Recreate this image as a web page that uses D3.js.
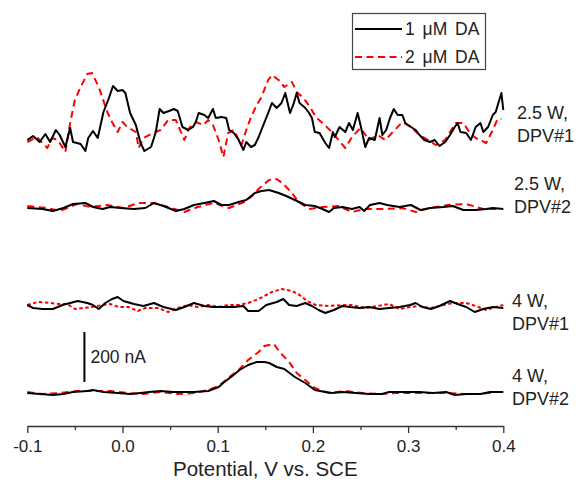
<!DOCTYPE html>
<html>
<head>
<meta charset="utf-8">
<script src="https://cdn.jsdelivr.net/npm/d3@7"></script>
<style>
  html, body { margin: 0; padding: 0; background: #fff; }
  svg text { font-family: "Liberation Sans", Arial, sans-serif; fill: #222; }
</style>
</head>
<body>
<svg id="chart" width="577" height="481"></svg>
<script>
// DPV traces, [potential (V vs. SCE), current (nA) relative to each trace's own baseline]
const w25dpv1_1uM = [[-0.100,-20],[-0.094,-4],[-0.087,-28],[-0.081,4],[-0.076,-28],[-0.070,20],[-0.066,0],[-0.060,-48],[-0.055,28],[-0.052,-28],[-0.044,-36],[-0.039,-64],[-0.036,-12],[-0.031,16],[-0.026,-12],[-0.020,92],[-0.015,140],[-0.010,196],[-0.005,176],[0.000,180],[0.003,168],[0.008,88],[0.014,40],[0.019,-32],[0.023,-64],[0.030,-48],[0.035,12],[0.039,104],[0.043,88],[0.049,96],[0.054,104],[0.058,96],[0.063,32],[0.069,20],[0.074,32],[0.077,52],[0.080,88],[0.086,80],[0.090,68],[0.095,104],[0.098,68],[0.104,72],[0.109,68],[0.112,20],[0.117,8],[0.122,-20],[0.127,-60],[0.130,-28],[0.135,-48],[0.139,-40],[0.143,-8],[0.148,40],[0.153,88],[0.157,128],[0.162,108],[0.167,128],[0.171,168],[0.176,88],[0.180,128],[0.183,168],[0.186,128],[0.192,108],[0.196,88],[0.199,68],[0.202,12],[0.207,8],[0.213,-32],[0.217,-52],[0.221,12],[0.223,-8],[0.228,32],[0.234,12],[0.238,48],[0.242,20],[0.247,88],[0.250,40],[0.255,-48],[0.259,-12],[0.265,-20],[0.270,68],[0.273,0],[0.277,20],[0.281,68],[0.285,104],[0.289,80],[0.294,80],[0.297,48],[0.303,32],[0.308,20],[0.312,0],[0.317,-20],[0.323,-28],[0.328,-20],[0.333,-44],[0.339,-28],[0.344,0],[0.349,32],[0.352,48],[0.355,12],[0.361,8],[0.366,-20],[0.371,32],[0.376,48],[0.379,12],[0.384,32],[0.389,80],[0.392,92],[0.398,168],[0.400,100]];
const w25dpv1_2uM = [[-0.100,-28],[-0.090,-8],[-0.079,-52],[-0.074,-12],[-0.068,-20],[-0.060,-68],[-0.055,48],[-0.050,140],[-0.044,192],[-0.037,244],[-0.032,248],[-0.025,192],[-0.021,148],[-0.016,92],[-0.011,52],[-0.005,12],[0.000,52],[0.005,32],[0.014,12],[0.017,-52],[0.022,-12],[0.032,8],[0.040,20],[0.048,60],[0.056,60],[0.065,-20],[0.070,28],[0.077,52],[0.085,40],[0.090,60],[0.095,40],[0.101,-20],[0.106,-88],[0.111,8],[0.117,20],[0.125,-40],[0.130,20],[0.135,72],[0.141,120],[0.146,152],[0.153,220],[0.157,240],[0.164,220],[0.170,192],[0.178,212],[0.183,172],[0.190,148],[0.197,112],[0.203,72],[0.210,48],[0.220,12],[0.227,-20],[0.234,-52],[0.241,-8],[0.250,28],[0.259,-20],[0.268,0],[0.276,-20],[0.286,20],[0.294,52],[0.303,32],[0.312,0],[0.321,-20],[0.329,-40],[0.339,-20],[0.344,12],[0.350,48],[0.358,48],[0.365,8],[0.371,-12],[0.382,-32],[0.389,20],[0.394,64],[0.398,64]];
const w25dpv2_1uM = [[-0.100,-4],[-0.084,-8],[-0.073,-16],[-0.062,-4],[-0.052,12],[-0.039,16],[-0.031,0],[-0.021,-8],[-0.013,0],[-0.002,-4],[0.012,-8],[0.024,-4],[0.033,16],[0.043,4],[0.056,-16],[0.065,-8],[0.075,8],[0.086,16],[0.096,24],[0.104,8],[0.112,8],[0.122,20],[0.130,28],[0.139,56],[0.146,64],[0.154,68],[0.164,56],[0.172,44],[0.181,28],[0.192,8],[0.202,4],[0.210,-8],[0.217,-20],[0.222,-4],[0.231,0],[0.241,-8],[0.249,0],[0.254,-16],[0.260,8],[0.270,16],[0.278,8],[0.291,0],[0.303,8],[0.313,-12],[0.323,-4],[0.337,0],[0.347,4],[0.358,-12],[0.371,-12],[0.382,-8],[0.389,-4],[0.400,-8]];
const w25dpv2_2uM = [[-0.100,4],[-0.079,-4],[-0.066,-16],[-0.048,12],[-0.034,0],[-0.016,8],[0.001,-4],[0.017,16],[0.033,16],[0.048,0],[0.065,-20],[0.079,0],[0.096,16],[0.112,-4],[0.128,20],[0.135,40],[0.144,76],[0.154,108],[0.162,112],[0.169,92],[0.178,56],[0.185,20],[0.196,-8],[0.210,0],[0.227,4],[0.241,-20],[0.255,-8],[0.275,-8],[0.294,-4],[0.308,-20],[0.323,-4],[0.342,8],[0.361,12],[0.379,-8],[0.397,-8]];
const w4dpv1_1uM = [[-0.100,4],[-0.094,-8],[-0.084,-12],[-0.073,-12],[-0.063,4],[-0.055,12],[-0.047,20],[-0.037,12],[-0.031,4],[-0.025,-12],[-0.018,12],[-0.011,28],[-0.005,36],[0.001,20],[0.012,8],[0.022,0],[0.033,12],[0.043,-4],[0.056,-16],[0.065,-4],[0.075,12],[0.086,0],[0.095,-4],[0.107,-4],[0.117,-4],[0.127,0],[0.132,-20],[0.143,-20],[0.151,4],[0.162,16],[0.169,28],[0.175,4],[0.183,0],[0.192,12],[0.199,0],[0.206,-16],[0.213,-28],[0.222,-16],[0.231,0],[0.239,-4],[0.249,-8],[0.259,-4],[0.270,-12],[0.280,-8],[0.291,-4],[0.302,4],[0.308,12],[0.315,-4],[0.324,-12],[0.333,0],[0.344,20],[0.352,8],[0.361,-4],[0.370,-24],[0.379,-12],[0.389,-4],[0.400,-8]];
const w4dpv1_2uM = [[-0.100,4],[-0.089,16],[-0.076,12],[-0.066,8],[-0.058,8],[-0.050,-12],[-0.041,-8],[-0.032,-4],[-0.021,4],[-0.013,8],[-0.004,-4],[0.006,-4],[0.016,-20],[0.024,-8],[0.037,-8],[0.048,-24],[0.058,-8],[0.069,4],[0.079,-4],[0.090,4],[0.101,-4],[0.111,4],[0.122,4],[0.132,12],[0.143,28],[0.151,44],[0.157,56],[0.167,68],[0.178,60],[0.186,44],[0.194,20],[0.203,4],[0.217,0],[0.231,4],[0.241,4],[0.255,-8],[0.268,0],[0.280,8],[0.291,-12],[0.302,-4],[0.312,0],[0.323,-8],[0.333,0],[0.347,12],[0.361,12],[0.371,0],[0.382,-16],[0.392,-4],[0.400,4]];
const w4dpv2_1uM = [[-0.100,0],[-0.087,-4],[-0.073,-8],[-0.062,-4],[-0.052,4],[-0.037,8],[-0.031,12],[-0.020,4],[-0.005,0],[0.008,-4],[0.019,0],[0.028,4],[0.040,8],[0.053,4],[0.061,4],[0.075,4],[0.090,8],[0.101,24],[0.107,44],[0.114,64],[0.123,92],[0.132,112],[0.141,124],[0.149,124],[0.154,120],[0.162,104],[0.170,96],[0.181,64],[0.192,40],[0.202,12],[0.213,4],[0.220,0],[0.231,4],[0.245,0],[0.259,-4],[0.273,-4],[0.280,4],[0.294,4],[0.312,4],[0.326,0],[0.340,4],[0.349,-8],[0.361,-4],[0.376,-4],[0.386,4],[0.400,4]];
const w4dpv2_2uM = [[-0.100,4],[-0.084,-4],[-0.066,0],[-0.048,8],[-0.031,8],[-0.013,8],[0.005,0],[0.022,-4],[0.040,4],[0.058,-4],[0.075,0],[0.090,12],[0.101,28],[0.111,60],[0.122,92],[0.132,132],[0.143,164],[0.149,188],[0.159,196],[0.166,160],[0.175,124],[0.183,80],[0.192,52],[0.202,20],[0.217,0],[0.234,8],[0.252,0],[0.270,-4],[0.287,0],[0.305,0],[0.323,0],[0.340,0],[0.358,-4],[0.376,-4],[0.392,4],[0.400,4]];

// Vertical stacking offsets (nA) for the four measurement conditions
const traceOffsets = [1192, 904, 508, 160];
const conditionLines = [["2.5 W,", "DPV#1"], ["2.5 W,", "DPV#2"], ["4 W,", "DPV#1"], ["4 W,", "DPV#2"]];
const seriesNames = ["1 \u03bcM DA", "2 \u03bcM DA"];
const xTicks = [-0.1, 0.0, 0.1, 0.2, 0.3, 0.4];
const xMinorTicks = [-0.05, 0.05, 0.15, 0.25, 0.35];
const xTitle = "Potential, V vs. SCE";
const scaleBar = { potential: -0.04, start: 204, span: 200, label: "200 nA" };

const traces = [
  [w25dpv1_1uM, w25dpv1_2uM],
  [w25dpv2_1uM, w25dpv2_2uM],
  [w4dpv1_1uM, w4dpv1_2uM],
  [w4dpv2_1uM, w4dpv2_2uM]
];

const svg = d3.select("#chart");
const x = d3.scaleLinear().domain([-0.1, 0.4]).range([27.3, 503.3]);
const y = d3.scaleLinear().domain([0, 1700]).range([433, 8]);

const seriesStyle = [
  { stroke: "#000", dash: null },
  { stroke: "#ff0000", dash: "7,4.5" }
];

const line = d3.line().x(d => x(d[0]));

traces.forEach((pair, i) => {
  const off = traceOffsets[i];
  line.y(d => y(d[1] + off));
  // red (2 µM) first so the black (1 µM) trace sits on top
  [1, 0].forEach(s => {
    const st = seriesStyle[s];
    svg.append("path")
      .datum(pair[s])
      .attr("d", line)
      .attr("fill", "none")
      .attr("stroke", st.stroke)
      .attr("stroke-width", 2)
      .attr("stroke-linejoin", "round")
      .attr("stroke-dasharray", s === 1 ? (i === 2 ? "3.5,2.5" : st.dash) : null);
  });
});

// condition labels at the right of each trace pair
const labelX = [517, 514, 512, 512];
const labelY = [119, 190, 307, 382];
conditionLines.forEach((lines, i) => {
  const t = svg.append("text")
    .attr("x", labelX[i]).attr("y", labelY[i])
    .attr("font-size", 18);
  lines.forEach((s, j) => {
    t.append("tspan").attr("x", labelX[i]).attr("dy", j === 0 ? 0 : 23).text(s);
  });
});

// x axis
const axisY = 426;
const gx = svg.append("g").attr("transform", `translate(0,${axisY})`)
  .call(d3.axisBottom(x).tickValues(xTicks).tickSize(7).tickSizeOuter(0).tickPadding(7)
    .tickFormat(d => d.toFixed(1)));
gx.select(".domain").attr("stroke", "#333").attr("stroke-width", 1.3);
gx.selectAll(".tick line").attr("stroke", "#333").attr("stroke-width", 1.3);
gx.selectAll(".tick text").attr("font-size", 17).attr("fill", "#222")
  .attr("font-family", "'Liberation Sans', Arial, sans-serif");

const gm = svg.append("g").attr("transform", `translate(0,${axisY})`)
  .call(d3.axisBottom(x).tickValues(xMinorTicks).tickSize(4).tickSizeOuter(0).tickFormat(""));
gm.select(".domain").remove();
gm.selectAll(".tick line").attr("stroke", "#333").attr("stroke-width", 1.3);

svg.append("text")
  .attr("x", (x.range()[0] + x.range()[1]) / 2).attr("y", 476)
  .attr("text-anchor", "middle").attr("font-size", 20.5)
  .text(xTitle);

// current scale bar
svg.append("line")
  .attr("x1", x(scaleBar.potential)).attr("x2", x(scaleBar.potential))
  .attr("y1", y(scaleBar.start)).attr("y2", y(scaleBar.start + scaleBar.span))
  .attr("stroke", "#000").attr("stroke-width", 2);
svg.append("text")
  .attr("x", x(scaleBar.potential) + 6)
  .attr("y", y(scaleBar.start + scaleBar.span / 2) + 6)
  .attr("font-size", 17.5)
  .text(scaleBar.label);

// legend
const lg = svg.append("g");
lg.append("rect").attr("x", 352.5).attr("y", 13.5).attr("width", 133).attr("height", 56)
  .attr("fill", "#fff").attr("stroke", "#444").attr("stroke-width", 1.2);
seriesNames.forEach((name, i) => {
  const ly = 29 + i * 28;
  lg.append("line").attr("x1", 355).attr("x2", 402).attr("y1", ly).attr("y2", ly)
    .attr("stroke", seriesStyle[i].stroke).attr("stroke-width", 2)
    .attr("stroke-dasharray", seriesStyle[i].dash);
  lg.append("text").attr("x", 405).attr("y", ly + 6).attr("font-size", 17.5)
    .attr("word-spacing", 3)
    .text(name);
});
</script>
</body>
</html>
